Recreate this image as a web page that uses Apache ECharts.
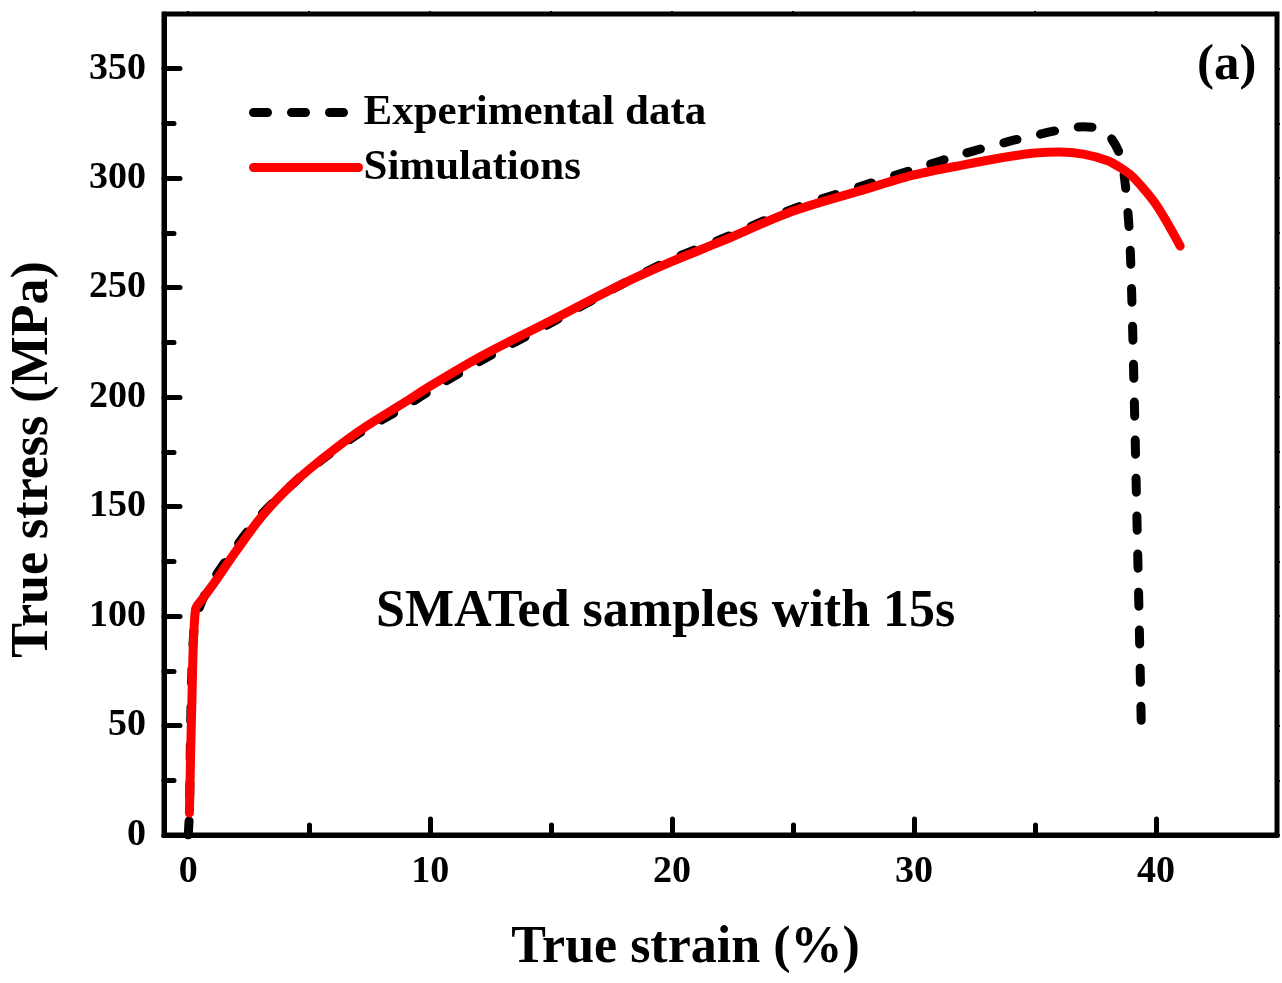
<!DOCTYPE html>
<html>
<head>
<meta charset="utf-8">
<script src="https://cdn.jsdelivr.net/npm/echarts@6/dist/echarts.min.js"></script>
<style>
  html, body { margin: 0; padding: 0; background: #fff; }
  #chart { width: 1282px; height: 983px; }
</style>
</head>
<body>
<div id="chart"></div>
<script>
// experimental curve (black dashed)
const expStrain = [0.0, 0.05, 0.12, 0.25, 0.5, 1, 2, 3, 4, 5, 7, 9, 10, 12, 15, 18, 20, 22, 25, 28, 30, 32, 34, 35, 36, 37, 37.7, 38.1, 38.5, 38.7, 38.9, 39.0, 39.1, 39.2, 39.3, 39.4];
const expStress = [0, 10, 60, 95, 105, 116, 132, 146, 157, 167, 183, 196, 203, 216, 234, 252, 263, 272, 286, 297, 304, 311, 317, 319.5, 322, 323.5, 322.5, 319, 311, 300, 275, 245, 200, 150, 100, 45];

// simulated curve (red solid)
const simStrain = [0.05, 0.15, 0.3, 0.6, 1, 2, 3, 4, 5, 7, 9, 10, 12, 15, 18, 20, 22, 25, 28, 30, 32, 34, 35, 36, 37, 38, 38.5, 39, 39.5, 40, 40.5, 41];
const simStress = [10, 60, 103, 108, 114, 130, 145, 157, 167, 184, 198, 205, 218, 235, 252, 262, 271, 285, 295, 301.5, 306, 310, 311.5, 312, 311, 308, 305, 301, 295, 288, 279, 269];

const xMajor = [0, 10, 20, 30, 40];
const xMinor = [5, 15, 25, 35];
const yMajor = [0, 50, 100, 150, 200, 250, 300, 350];
const yMinor = [25, 75, 125, 175, 225, 275, 325];

const font = 'Liberation Serif';
const chart = echarts.init(document.getElementById('chart'));

const option = {
    animation: false,
    grid: {
        left: 163, top: 14, right: 5, bottom: 148,
        show: true, borderColor: '#000', borderWidth: 5
    },
    legend: {
        orient: 'vertical',
        left: 244, top: 86,
        itemWidth: 105, itemHeight: 14, itemGap: 12,
        itemStyle: { opacity: 0 },
        lineStyle: { width: 9, cap: 'round' },
        textStyle: { fontFamily: font, fontWeight: 'bold', fontSize: 43, color: '#000' },
        data: ['Experimental data', 'Simulations']
    },
    xAxis: [
        {
            type: 'value', min: -1, max: 45,
            name: 'True strain (%)', nameLocation: 'middle', nameGap: 88,
            nameTextStyle: { fontFamily: font, fontWeight: 'bold', fontSize: 52, color: '#000', padding: [0, 70, 0, 0] },
            axisLine: { onZero: false, lineStyle: { color: '#000', width: 5 } },
            axisTick: { inside: true, length: 16, customValues: xMajor, lineStyle: { color: '#000', width: 5, cap: 'round' } },
            axisLabel: { customValues: xMajor, margin: 18, fontFamily: font, fontWeight: 'bold', fontSize: 38, color: '#000' },
            splitLine: { show: false }
        },
        {
            type: 'value', min: -1, max: 45, position: 'bottom',
            axisLine: { show: false, onZero: false },
            axisTick: { inside: true, length: 10, customValues: xMinor, lineStyle: { color: '#000', width: 5, cap: 'round' } },
            axisLabel: { show: false }, splitLine: { show: false }
        },
        {
            type: 'value', min: -1, max: 45, position: 'top',
            axisLine: { show: false, onZero: false },
            axisTick: { inside: false, length: 3, customValues: xMajor.concat(xMinor), lineStyle: { color: '#000', width: 2 } },
            axisLabel: { show: false }, splitLine: { show: false }
        }
    ],
    yAxis: [
        {
            type: 'value', min: 0, max: 375,
            name: 'True stress (MPa)', nameLocation: 'middle', nameGap: 104,
            nameTextStyle: { fontFamily: font, fontWeight: 'bold', fontSize: 52, color: '#000', padding: [0, 70, 0, 0] },
            axisLine: { onZero: false, lineStyle: { color: '#000', width: 5 } },
            axisTick: { inside: true, length: 16, customValues: yMajor, lineStyle: { color: '#000', width: 5, cap: 'round' } },
            axisLabel: { customValues: yMajor, margin: 18, fontFamily: font, fontWeight: 'bold', fontSize: 38, color: '#000' },
            splitLine: { show: false }
        },
        {
            type: 'value', min: 0, max: 375, position: 'left',
            axisLine: { show: false, onZero: false },
            axisTick: { inside: true, length: 10, customValues: yMinor, lineStyle: { color: '#000', width: 5, cap: 'round' } },
            axisLabel: { show: false }, splitLine: { show: false }
        },
        {
            type: 'value', min: 0, max: 375, position: 'right',
            axisLine: { show: false, onZero: false },
            axisTick: { inside: false, length: 3, customValues: yMajor.concat(yMinor), lineStyle: { color: '#000', width: 2 } },
            axisLabel: { show: false }, splitLine: { show: false }
        }
    ],
    graphic: [
        {
            type: 'text', left: 1197, top: 40,
            style: { text: '(a)', font: 'bold 51px "Liberation Serif"', fill: '#000' }
        },
        {
            type: 'text', left: 376, top: 587,
            style: { text: 'SMATed samples with 15s', font: 'bold 52px "Liberation Serif"', fill: '#000' }
        }
    ],
    series: [
        {
            name: 'Experimental data',
            type: 'line',
            data: expStrain.map((x, i) => [x, expStress[i]]),
            smooth: 0.3,
            showSymbol: false,
            symbol: 'none',
            lineStyle: { color: '#000', width: 9, type: [14, 24], cap: 'round' },
            itemStyle: { color: '#000' },
            z: 2
        },
        {
            name: 'Simulations',
            type: 'line',
            data: simStrain.map((x, i) => [x, simStress[i]]),
            smooth: 0.3,
            showSymbol: false,
            symbol: 'none',
            lineStyle: { color: '#ff0000', width: 9, cap: 'round' },
            itemStyle: { color: '#ff0000' },
            z: 3
        }
    ]
};

chart.setOption(option);
</script>
</body>
</html>
